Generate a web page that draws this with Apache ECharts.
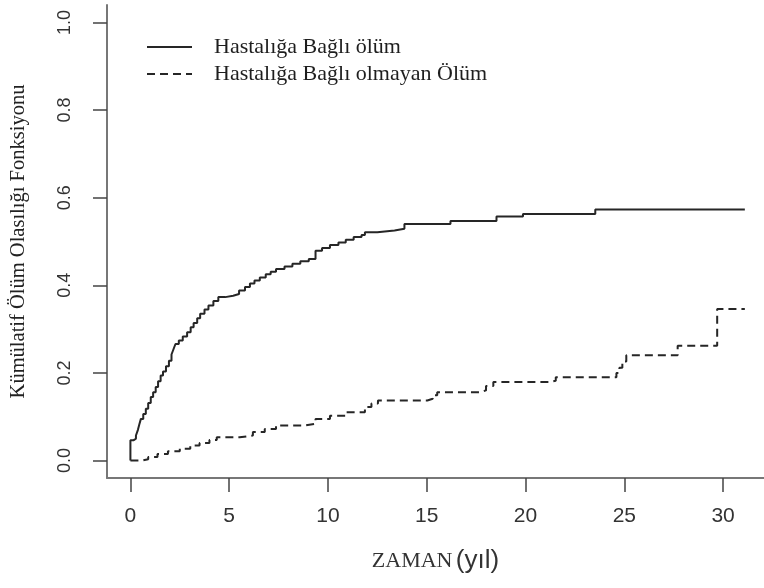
<!DOCTYPE html>
<html>
<head>
<meta charset="utf-8">
<script src="https://cdn.jsdelivr.net/npm/echarts@6/dist/echarts.min.js"></script>
<style>
  html, body { margin: 0; padding: 0; background: #ffffff; }
  #chart { width: 764px; height: 588px; }
</style>
</head>
<body>
<div id="chart"></div>
<script>
// Cumulative incidence step curves: [time (years), cumulative probability]
const diseaseDeath = [
  [0, 0], [0, 0.046], [0.15, 0.050], [0.28, 0.057], [0.38, 0.070], [0.45, 0.082],
  [0.53, 0.095], [0.65, 0.106], [0.78, 0.118], [0.9, 0.131], [1.03, 0.145],
  [1.15, 0.156], [1.28, 0.168], [1.4, 0.181], [1.53, 0.194], [1.65, 0.203],
  [1.8, 0.215], [1.95, 0.228], [2.08, 0.242], [2.18, 0.254], [2.28, 0.266],
  [2.45, 0.274], [2.65, 0.283], [2.87, 0.293], [3.05, 0.304], [3.2, 0.314],
  [3.38, 0.325], [3.53, 0.335], [3.75, 0.345], [3.95, 0.354], [4.2, 0.364],
  [4.45, 0.373], [4.8, 0.376], [5.2, 0.380], [5.5, 0.388], [5.8, 0.396],
  [6.05, 0.404], [6.28, 0.411], [6.55, 0.418], [6.85, 0.425], [7.1, 0.431],
  [7.37, 0.437], [7.8, 0.443], [8.2, 0.449], [8.6, 0.455], [9.03, 0.460],
  [9.37, 0.479], [9.7, 0.485], [10.1, 0.492], [10.53, 0.498], [10.9, 0.504],
  [11.3, 0.510], [11.7, 0.515], [11.87, 0.521], [12.5, 0.525], [13.37, 0.529],
  [13.87, 0.540], [16.2, 0.547], [18.53, 0.557], [19.87, 0.563], [23.53, 0.573],
  [31.1, 0.573]
];

const otherDeath = [
  [0, 0], [0.6, 0.003], [0.9, 0.008], [1.37, 0.015], [1.9, 0.021], [2.5, 0.027],
  [3.03, 0.034], [3.5, 0.040], [4.0, 0.047], [4.37, 0.053], [5.53, 0.057],
  [6.2, 0.065], [6.8, 0.072], [7.37, 0.080], [8.87, 0.084], [9.37, 0.095],
  [10.1, 0.102], [10.87, 0.110], [11.87, 0.122], [12.2, 0.130], [12.53, 0.137],
  [15.03, 0.141], [15.3, 0.149], [15.53, 0.156], [17.7, 0.160], [18.0, 0.170],
  [18.37, 0.179], [21.2, 0.182], [21.53, 0.190], [24.6, 0.200], [24.75, 0.212],
  [24.9, 0.226], [25.1, 0.240], [27.7, 0.262], [29.7, 0.346], [31.1, 0.346]
];

const seriesNames = ['Hastalığa Bağlı ölüm', 'Hastalığa Bağlı olmayan Ölüm'];
const xTicks = [0, 5, 10, 15, 20, 25, 30];
const yTicks = [0, 0.2, 0.4, 0.6, 0.8, 1.0];

const chart = echarts.init(document.getElementById('chart'), null, { renderer: 'canvas' });

const axisGray = '#777777';
const inkColor = '#262626';

chart.setOption({
  backgroundColor: '#ffffff',
  animation: false,
  grid: { left: 99, right: 0, top: 5, bottom: 110, containLabel: false },
  legend: {
    orient: 'vertical',
    left: 146,
    top: 36,
    padding: 0,
    itemWidth: 45,
    itemHeight: 14,
    itemGap: 5,
    data: seriesNames,
    // line samples only, no marker in the middle
    itemStyle: { opacity: 0 },
    textStyle: {
      fontFamily: 'Liberation Serif',
      fontSize: 22,
      lineHeight: 21,
      color: '#1e1e1e',
      padding: [0, 0, 0, 17]
    }
  },
  xAxis: {
    type: 'value',
    min: -1.185,
    max: 32.07,
    name: '{a|ZAMAN} {b|(yıl)}',
    nameLocation: 'middle',
    nameGap: 70,
    nameTextStyle: {
      rich: {
        a: { fontFamily: 'Liberation Serif', fontSize: 22, color: '#333333' },
        b: { fontFamily: 'Liberation Sans', fontSize: 26, color: '#333333' }
      }
    },
    axisLine: { show: true, onZero: false, lineStyle: { color: axisGray, width: 2 } },
    axisTick: {
      show: true, length: 14, inside: false, customValues: xTicks,
      lineStyle: { color: '#444444', width: 1.5 }
    },
    axisLabel: {
      customValues: xTicks,
      margin: 28,
      fontFamily: 'Liberation Sans',
      fontSize: 21,
      color: '#333333',
      formatter: v => String(Math.round(v))
    },
    splitLine: { show: false }
  },
  yAxis: {
    type: 'value',
    min: -0.04,
    max: 1.04,
    name: 'Kümülatif Ölüm Olasılığı Fonksiyonu',
    nameLocation: 'middle',
    nameGap: 78,
    nameTextStyle: { fontFamily: 'Liberation Serif', fontSize: 20.5, color: '#222222' },
    axisLine: { show: true, onZero: false, lineStyle: { color: axisGray, width: 2 } },
    axisTick: {
      show: true, length: 14, inside: false, customValues: yTicks,
      lineStyle: { color: '#444444', width: 1.5 }
    },
    axisLabel: {
      customValues: yTicks,
      rotate: 90,
      margin: 33,
      fontFamily: 'Liberation Sans',
      fontSize: 18,
      color: '#333333',
      formatter: v => v.toFixed(1)
    },
    splitLine: { show: false }
  },
  series: [
    {
      name: seriesNames[0],
      type: 'line',
      step: 'end',
      symbol: 'none',
      data: diseaseDeath,
      lineStyle: { color: inkColor, width: 2, type: 'solid' },
      itemStyle: { color: inkColor }
    },
    {
      name: seriesNames[1],
      type: 'line',
      step: 'end',
      symbol: 'none',
      data: otherDeath,
      lineStyle: { color: inkColor, width: 2, type: [8, 5] },
      itemStyle: { color: inkColor }
    }
  ]
});
</script>
</body>
</html>
